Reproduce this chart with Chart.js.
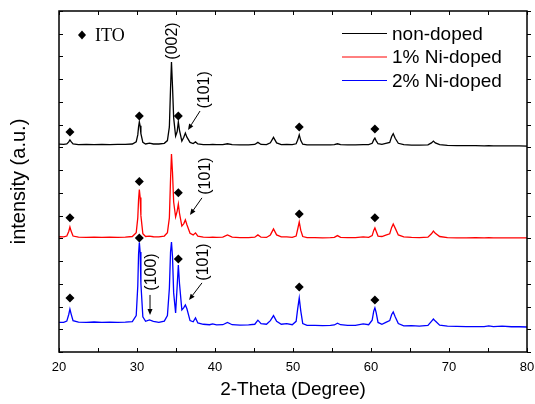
<!DOCTYPE html>
<html>
<head>
<meta charset="utf-8">
<title>XRD patterns</title>
<script src="https://cdn.jsdelivr.net/npm/chart.js@4.4.0/dist/chart.umd.min.js"></script>
<style>
  html, body { margin: 0; padding: 0; background: #fff; }
</style>
</head>
<body>
<canvas id="xrd" width="535" height="404"></canvas>
<script>
// 2-theta positions (deg) shared by the three patterns
const twoTheta = [
  20.0, 20.6, 21.0, 21.25, 21.4, 21.55, 21.8, 22.5, 23.5, 24.5,
  25.5, 26.5, 27.5, 28.5, 29.4, 29.9, 30.1, 30.2, 30.3, 30.4,
  30.5, 30.75, 31.1, 31.6, 32.1, 32.8, 33.5, 33.9, 34.15, 34.3,
  34.42, 34.55, 34.7, 34.95, 35.15, 35.3, 35.45, 35.75, 36.0, 36.2,
  36.4, 36.8, 37.2, 37.5, 37.8, 38.5, 39.3, 39.7, 40.2, 41.0,
  41.6, 42.2, 43.2, 44.3, 45.1, 45.5, 45.9, 46.6, 47.1, 47.5,
  47.9, 48.5, 49.2, 49.9, 50.4, 50.6, 50.8, 51.0, 51.25, 51.8,
  52.8, 53.8, 54.8, 55.3, 55.7, 56.1, 57.0, 58.0, 59.0, 59.7,
  60.15, 60.35, 60.5, 60.65, 60.9, 61.4, 61.9, 62.4, 62.65, 62.85,
  63.1, 63.5, 64.2, 65.2, 66.2, 67.3, 67.75, 68.0, 68.25, 68.8,
  69.8, 71.0, 72.2, 73.4, 74.5, 75.1, 75.7, 76.8, 78.0, 79.0, 80.0
];

// intensities (a.u., already offset for stacking)
const nonDoped = [
  9.14, 9.13, 9.15, 9.24, 9.33, 9.25, 9.15, 9.12, 9.13, 9.12,
  9.13, 9.12, 9.13, 9.13, 9.15, 9.25, 9.55, 9.90, 10.12, 9.95,
  9.60, 9.22, 9.15, 9.19, 9.15, 9.15, 9.18, 9.30, 9.90, 11.6,
  12.76, 11.7, 10.3, 9.50, 9.70, 10.12, 9.75, 9.28, 9.45, 9.63,
  9.45, 9.22, 9.17, 9.24, 9.15, 9.12, 9.12, 9.13, 9.12, 9.12,
  9.16, 9.12, 9.11, 9.11, 9.13, 9.22, 9.13, 9.12, 9.20, 9.44,
  9.20, 9.12, 9.13, 9.12, 9.16, 9.32, 9.55, 9.30, 9.14, 9.11,
  9.11, 9.11, 9.11, 9.12, 9.16, 9.12, 9.11, 9.11, 9.12, 9.12,
  9.18, 9.33, 9.41, 9.30, 9.16, 9.13, 9.18, 9.22, 9.48, 9.60,
  9.40, 9.18, 9.12, 9.10, 9.10, 9.11, 9.20, 9.28, 9.20, 9.12,
  9.09, 9.08, 9.08, 9.08, 9.07, 9.08, 9.07, 9.07, 9.07, 9.07, 9.06
];
const ni1Doped = [
  5.07, 5.06, 5.10, 5.30, 5.50, 5.32, 5.10, 5.05, 5.04, 5.05,
  5.04, 5.05, 5.04, 5.05, 5.08, 5.25, 5.90, 6.70, 7.15, 6.80,
  6.00, 5.20, 5.08, 5.10, 5.07, 5.06, 5.10, 5.25, 5.90, 7.60,
  8.71, 7.90, 6.60, 5.94, 6.20, 6.51, 6.10, 5.54, 5.65, 5.81,
  5.60, 5.22, 5.15, 5.24, 5.10, 5.05, 5.04, 5.05, 5.04, 5.05,
  5.15, 5.05, 5.03, 5.03, 5.05, 5.15, 5.05, 5.04, 5.15, 5.41,
  5.15, 5.06, 5.06, 5.04, 5.10, 5.40, 5.72, 5.35, 5.08, 5.03,
  5.03, 5.02, 5.03, 5.04, 5.12, 5.04, 5.03, 5.03, 5.06, 5.04,
  5.12, 5.35, 5.46, 5.32, 5.10, 5.08, 5.14, 5.20, 5.48, 5.63,
  5.45, 5.15, 5.06, 5.04, 5.03, 5.05, 5.20, 5.32, 5.22, 5.08,
  5.03, 5.02, 5.02, 5.03, 5.02, 5.03, 5.02, 5.02, 5.02, 5.02, 5.02
];
const ni2Doped = [
  1.30, 1.30, 1.36, 1.65, 1.89, 1.68, 1.38, 1.31, 1.30, 1.32,
  1.30, 1.31, 1.30, 1.31, 1.34, 1.60, 2.90, 4.30, 4.82, 4.40,
  3.00, 1.55, 1.35, 1.41, 1.35, 1.30, 1.36, 1.60, 2.80, 4.40,
  4.84, 4.20, 2.60, 1.72, 2.90, 3.83, 3.00, 1.85, 1.95, 2.07,
  1.90, 1.38, 1.33, 1.50, 1.28, 1.22, 1.20, 1.24, 1.19, 1.20,
  1.30, 1.20, 1.18, 1.19, 1.22, 1.40, 1.25, 1.22, 1.38, 1.60,
  1.35, 1.22, 1.25, 1.20, 1.35, 1.90, 2.38, 1.80, 1.25, 1.17,
  1.17, 1.16, 1.17, 1.19, 1.27, 1.20, 1.17, 1.17, 1.24, 1.20,
  1.40, 1.80, 1.94, 1.75, 1.30, 1.22, 1.30, 1.38, 1.65, 1.76,
  1.55, 1.25, 1.15, 1.16, 1.14, 1.17, 1.35, 1.45, 1.36, 1.18,
  1.14, 1.13, 1.12, 1.12, 1.12, 1.15, 1.12, 1.14, 1.11, 1.11, 1.10
];

// ITO reflections and the height of their diamond marks on each pattern
const itoPeaks = [21.4, 30.3, 35.3, 50.8, 60.5];
const itoMarkNon = [9.68, 10.38, 10.38, 9.9, 9.81];
const itoMark1 = [5.9, 7.5, 7.0, 6.07, 5.9];
const itoMark2 = [2.38, 5.02, 4.09, 2.86, 2.29];

const seriesNames = ['non-doped', '1% Ni-doped', '2% Ni-doped'];
const seriesColors = ['#000000', '#ff0000', '#0000ff'];

// hkl labels (text, x, y) and their arrows (from x,y -> to x,y), data units
const hklText = ['(002)', '(101)', '(101)', '(100)', '(101)'];
const hklAt = [[34.55, 13.68], [38.69, 11.53], [38.8, 7.74], [31.92, 3.52], [38.56, 3.96]];
const hklArrow = [null, [38.08, 10.6, 36.54, 9.77], [38.33, 6.78, 36.79, 6.03],
                  [31.67, 2.51, 31.67, 1.63], [38.33, 3.04, 36.67, 2.29]];

const SANS = '"Liberation Sans", Arial, sans-serif';
const SERIF = '"Liberation Serif", "Times New Roman", serif';

function pts(xs, ys) {
  return xs.map((x, i) => ({x: x, y: ys[i]}));
}

function lineSet(label, ys, color) {
  return {
    label: label,
    data: pts(twoTheta, ys),
    borderColor: color,
    borderWidth: 1.3,
    pointRadius: 0,
    tension: 0,
    fill: false
  };
}

function markSet(ys) {
  return {
    label: 'ITO',
    data: pts(itoPeaks, ys),
    showLine: false,
    pointStyle: 'rectRot',
    pointRadius: 4.5,
    backgroundColor: '#000',
    borderColor: '#000',
    borderWidth: 0
  };
}

function strokeLine(ctx, x1, y1, x2, y2) {
  ctx.beginPath();
  ctx.moveTo(x1, y1);
  ctx.lineTo(x2, y2);
  ctx.stroke();
}

function arrow(ctx, x1, y1, x2, y2) {
  const ang = Math.atan2(y2 - y1, x2 - x1);
  const len = 6, half = 2.5;
  const bx = x2 - Math.cos(ang) * len, by = y2 - Math.sin(ang) * len;
  strokeLine(ctx, x1, y1, bx, by);
  ctx.beginPath();
  ctx.moveTo(x2, y2);
  ctx.lineTo(bx + Math.sin(ang) * half, by - Math.cos(ang) * half);
  ctx.lineTo(bx - Math.sin(ang) * half, by + Math.cos(ang) * half);
  ctx.closePath();
  ctx.fill();
}

// frame, inward ticks, hkl labels, legend
const decor = {
  id: 'decor',
  afterDraw(chart) {
    const ctx = chart.ctx;
    const a = chart.chartArea;
    const xs = chart.scales.x, ys = chart.scales.y;
    ctx.save();
    ctx.strokeStyle = '#000';
    ctx.fillStyle = '#000';
    ctx.lineWidth = 1;

    xs.ticks.forEach(t => {
      const px = Math.round(xs.getPixelForValue(t.value)) + 0.5;
      strokeLine(ctx, px, a.bottom, px, a.bottom - 4);
      strokeLine(ctx, px, a.top, px, a.top + 4);
    });
    ys.ticks.forEach(t => {
      const py = Math.round(ys.getPixelForValue(t.value)) + 0.5;
      strokeLine(ctx, a.left, py, a.left + 4, py);
      strokeLine(ctx, a.right, py, a.right + 4, py);
    });

    ctx.lineWidth = 1.5;
    ctx.strokeRect(a.left, a.top, a.right - a.left, a.bottom - a.top);

    // hkl labels, rotated
    ctx.font = '16px ' + SANS;
    ctx.textAlign = 'center';
    ctx.textBaseline = 'middle';
    hklText.forEach((txt, i) => {
      ctx.save();
      ctx.translate(xs.getPixelForValue(hklAt[i][0]), ys.getPixelForValue(hklAt[i][1]));
      ctx.rotate(-Math.PI / 2);
      ctx.fillText(txt, 0, 0);
      ctx.restore();
      const ar = hklArrow[i];
      if (ar) {
        ctx.lineWidth = 1;
        arrow(ctx, xs.getPixelForValue(ar[0]), ys.getPixelForValue(ar[1]),
                   xs.getPixelForValue(ar[2]), ys.getPixelForValue(ar[3]));
      }
    });

    // "♦ ITO" key
    const kx = a.left + 23, ky = a.top + 24;
    ctx.beginPath();
    ctx.moveTo(kx, ky - 4.5);
    ctx.lineTo(kx + 4, ky);
    ctx.lineTo(kx, ky + 4.5);
    ctx.lineTo(kx - 4, ky);
    ctx.closePath();
    ctx.fill();
    ctx.font = '18px ' + SERIF;
    ctx.textAlign = 'left';
    ctx.fillText('ITO', kx + 13, ky + 1);

    // series legend
    ctx.font = '19px ' + SANS;
    ctx.lineWidth = 1;
    seriesNames.forEach((name, i) => {
      const ly = a.top + 22.5 + i * 23.5;
      ctx.strokeStyle = seriesColors[i];
      strokeLine(ctx, a.right - 185, ly, a.right - 140, ly);
      ctx.fillStyle = '#000';
      ctx.fillText(name, a.right - 135, ly + 1);
    });
    ctx.restore();
  }
};

new Chart(document.getElementById('xrd'), {
  type: 'line',
  data: {
    datasets: [
      lineSet(seriesNames[0], nonDoped, seriesColors[0]),
      lineSet(seriesNames[1], ni1Doped, seriesColors[1]),
      lineSet(seriesNames[2], ni2Doped, seriesColors[2]),
      markSet(itoMarkNon),
      markSet(itoMark1),
      markSet(itoMark2)
    ]
  },
  options: {
    responsive: false,
    animation: false,
    layout: { padding: { top: 11, right: 8, bottom: 0, left: 0 } },
    plugins: { legend: { display: false }, tooltip: { enabled: false } },
    scales: {
      x: {
        type: 'linear',
        min: 20,
        max: 80,
        grid: { display: false, drawTicks: false },
        border: { display: false },
        ticks: {
          stepSize: 5,
          autoSkip: false,
          maxRotation: 0,
          padding: 8,
          color: '#000',
          font: { family: SANS, size: 13 },
          callback: v => (v % 10 === 0 ? v : '')
        },
        title: {
          display: true,
          text: '2-Theta (Degree)',
          color: '#000',
          font: { family: SANS, size: 19 },
          padding: { top: 0, bottom: 3 }
        },
        // fixed axis box; the "80" label may hang into the right margin
        afterFit: s => { s.height = 52; s.paddingLeft = 0; s.paddingRight = 0; }
      },
      y: {
        min: 0,
        max: 15,
        grid: { display: false, drawTicks: false },
        border: { display: false },
        ticks: { stepSize: 1, display: false },
        title: {
          display: true,
          text: 'intensity (a.u.)',
          color: '#000',
          font: { family: SANS, size: 20 },
          padding: { top: 7, bottom: 0 }
        },
        afterFit: s => { s.width = 59; s.paddingTop = 0; s.paddingBottom = 0; }
      }
    }
  },
  plugins: [decor]
});
</script>
</body>
</html>
